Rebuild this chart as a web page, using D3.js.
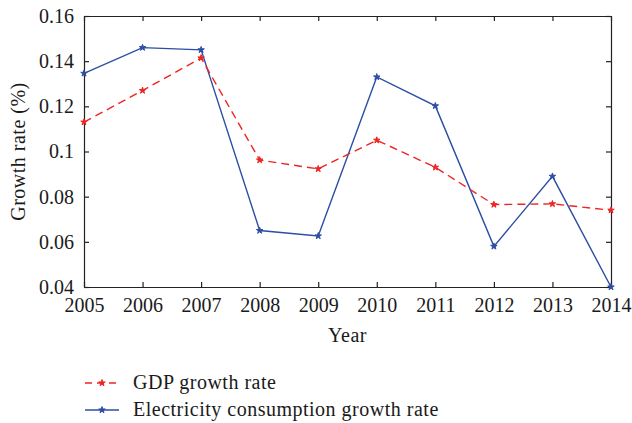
<!DOCTYPE html>
<html>
<head>
<meta charset="utf-8">
<script src="https://cdn.jsdelivr.net/npm/d3@7"></script>
<style>
  html, body { margin: 0; padding: 0; background: #fff; }
  svg text { font-family: "Liberation Serif", "DejaVu Serif", serif; fill: #1a1a1a; }
</style>
</head>
<body>
<svg id="chart" width="632" height="423"></svg>
<script>
// Annual growth rates, 2005–2014
const years = [2005, 2006, 2007, 2008, 2009, 2010, 2011, 2012, 2013, 2014];
const gdpGrowth = [0.113, 0.127, 0.1414, 0.0962, 0.0923, 0.105, 0.093, 0.0765, 0.0768, 0.074];
const electricityGrowth = [0.1346, 0.146, 0.145, 0.065, 0.0626, 0.133, 0.1202, 0.058, 0.089, 0.040];
const yTicks = [0.04, 0.06, 0.08, 0.1, 0.12, 0.14, 0.16];
const yTickLabels = ["0.04", "0.06", "0.08", "0.1", "0.12", "0.14", "0.16"];
const seriesNames = ["GDP growth rate", "Electricity consumption growth rate"];

const svg = d3.select("#chart");
const plotLeft = 84, plotRight = 611, plotTop = 16, plotBottom = 287;
const red = "#ee2424", blue = "#2c4ea3", axisColor = "#222";
const fontSize = 20;

const x = d3.scaleLinear().domain([2005, 2014]).range([plotLeft, plotRight]);
const y = d3.scaleLinear().domain([0.04, 0.16]).range([plotBottom, plotTop]);

// Frame with inward ticks on all four sides
const tickLen = 5;
const axes = svg.append("g");
axes.append("g").attr("transform", `translate(0,${plotBottom})`)
  .call(d3.axisBottom(x).tickValues(years).tickFormat(d3.format("d")).tickSizeInner(-tickLen).tickSizeOuter(0).tickPadding(11))
  .call(g => g.selectAll("text").attr("font-size", fontSize));
axes.append("g").attr("transform", `translate(0,${plotTop})`)
  .call(d3.axisTop(x).tickValues(years).tickFormat("").tickSizeInner(-tickLen).tickSizeOuter(0));
axes.append("g").attr("transform", `translate(${plotLeft},0)`)
  .call(d3.axisLeft(y).tickValues(yTicks).tickFormat((d, i) => yTickLabels[i]).tickSizeInner(-tickLen).tickSizeOuter(0).tickPadding(10))
  .call(g => g.selectAll("text").attr("font-size", fontSize));
axes.append("g").attr("transform", `translate(${plotRight},0)`)
  .call(d3.axisRight(y).tickValues(yTicks).tickFormat("").tickSizeInner(-tickLen).tickSizeOuter(0));
axes.selectAll(".domain").attr("stroke", axisColor).attr("stroke-width", 1.2);
axes.selectAll(".tick line").attr("stroke", axisColor).attr("stroke-width", 1.2);
axes.selectAll("text").attr("font-family", "Liberation Serif, DejaVu Serif, serif").attr("fill", "#1a1a1a");

// Axis titles
svg.append("text").attr("x", (plotLeft + plotRight) / 2).attr("y", 342)
  .attr("text-anchor", "middle").attr("font-size", fontSize).attr("letter-spacing", 0.5).text("Year");
svg.append("text").attr("transform", `translate(25,${(plotTop + plotBottom) / 2}) rotate(-90)`)
  .attr("text-anchor", "middle").attr("font-size", fontSize).attr("letter-spacing", 0.5).text("Growth rate (%)");

const line = d3.line().x((d, i) => x(years[i])).y(d => y(d));
const star = d3.symbol().type(d3.symbolStar).size(13);

function drawSeries(values, color, dash) {
  const g = svg.append("g");
  g.append("path").datum(values).attr("d", line)
    .attr("fill", "none").attr("stroke", color).attr("stroke-width", 1.4)
    .attr("stroke-dasharray", dash);
  g.selectAll("path.marker").data(values).enter().append("path")
    .attr("class", "marker")
    .attr("transform", (d, i) => `translate(${x(years[i])},${y(d)})`)
    .attr("d", star).attr("fill", color).attr("stroke", color).attr("stroke-width", 1);
}

drawSeries(electricityGrowth, blue, null);
drawSeries(gdpGrowth, red, "8,5");

// Legend
const legend = svg.append("g");
const legendRows = [
  { name: seriesNames[0], color: red, dash: "7,5", yPos: 383 },
  { name: seriesNames[1], color: blue, dash: null, yPos: 410 }
];
legendRows.forEach(r => {
  legend.append("line").attr("x1", 85).attr("x2", 119).attr("y1", r.yPos).attr("y2", r.yPos)
    .attr("stroke", r.color).attr("stroke-width", 1.4).attr("stroke-dasharray", r.dash);
  legend.append("path").attr("transform", `translate(102,${r.yPos})`).attr("d", star)
    .attr("fill", r.color).attr("stroke", r.color).attr("stroke-width", 1);
  legend.append("text").attr("x", 133).attr("y", r.yPos + 6).attr("font-size", fontSize)
    .attr("letter-spacing", 0.5).text(r.name);
});
</script>
</body>
</html>
